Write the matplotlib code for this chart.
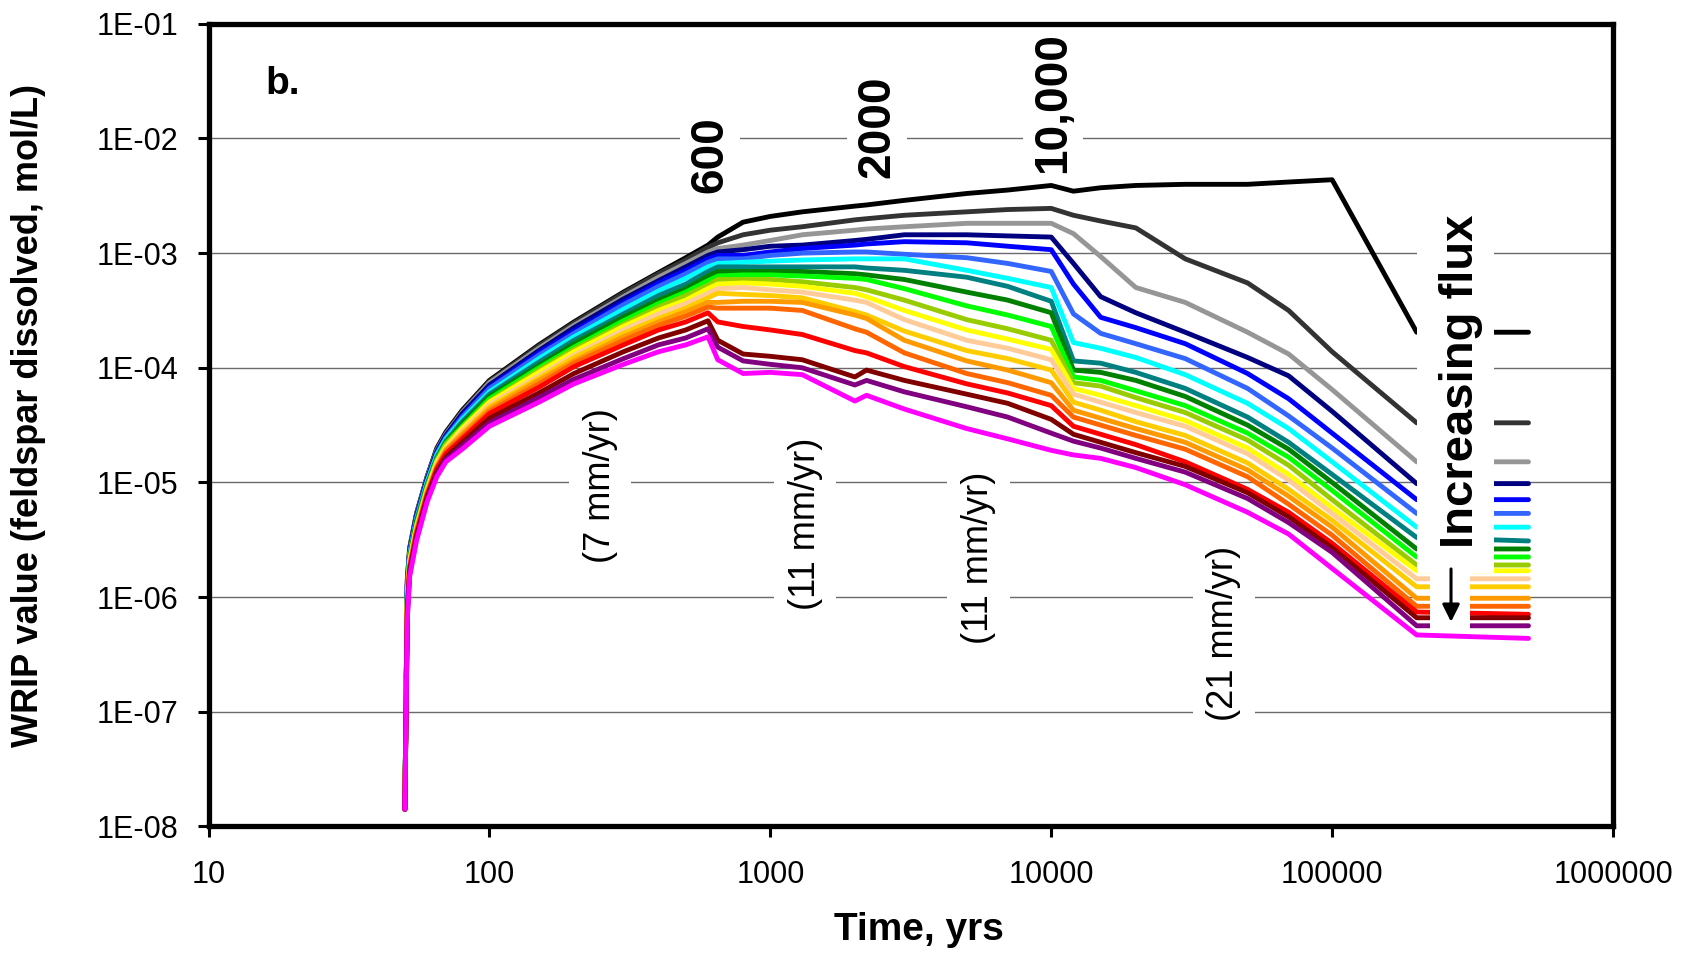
"""
WRIP value vs time for a set of feldspar-dissolution runs (panel b).
Log-log plot, one line per flux scenario, Excel-style palette.
"""
import matplotlib
matplotlib.use("Agg")
import matplotlib.pyplot as plt
import numpy as np
from matplotlib.patches import Rectangle
from matplotlib.ticker import NullLocator

plt.rcParams["font.family"] = ["Liberation Sans", "DejaVu Sans"]

# ---- data (log10 of WRIP, mol/L) -------------------------------------------
years = [50, 51, 52, 55, 60, 65, 70, 80, 100, 150, 200, 300, 400, 500, 600, 650,
         800, 1000, 1300, 2000, 2200, 3000, 5000, 7000, 10000, 12000, 15000,
         20000, 30000, 50000, 70000, 100000, 200000, 500000]

log_black = [-7.85, -5.85, -5.57, -5.27, -4.95, -4.70, -4.56, -4.37, -4.11, -3.80, -3.60, -3.34,
             -3.17, -3.04, -2.93, -2.86, -2.73, -2.68, -2.64, -2.59, -2.58, -2.54, -2.48, -2.45,
             -2.41, -2.46, -2.43, -2.41, -2.40, -2.40, -2.38, -2.36, -3.69, -3.69]
log_dark_gray = [-7.85, -5.86, -5.58, -5.28, -4.95, -4.71, -4.57, -4.38, -4.12, -3.81, -3.61, -3.35,
                 -3.18, -3.06, -2.95, -2.91, -2.84, -2.80, -2.77, -2.71, -2.70, -2.67, -2.64, -2.62,
                 -2.61, -2.67, -2.72, -2.78, -3.05, -3.26, -3.50, -3.86, -4.48, -4.48]
log_gray = [-7.85, -5.87, -5.59, -5.28, -4.96, -4.72, -4.58, -4.39, -4.13, -3.83, -3.63, -3.38,
            -3.21, -3.09, -2.99, -2.96, -2.93, -2.89, -2.84, -2.80, -2.79, -2.77, -2.74, -2.74,
            -2.74, -2.83, -3.03, -3.30, -3.43, -3.69, -3.88, -4.19, -4.82, -4.82]
log_navy = [-7.85, -5.89, -5.60, -5.29, -4.97, -4.73, -4.59, -4.40, -4.15, -3.85, -3.65, -3.40,
            -3.24, -3.12, -3.02, -2.99, -2.97, -2.94, -2.93, -2.89, -2.88, -2.84, -2.84, -2.85,
            -2.86, -3.09, -3.38, -3.52, -3.69, -3.91, -4.07, -4.38, -5.01, -5.01]
log_blue = [-7.85, -5.90, -5.61, -5.30, -4.98, -4.74, -4.60, -4.42, -4.17, -3.87, -3.68, -3.43,
            -3.26, -3.15, -3.05, -3.02, -3.02, -2.99, -2.96, -2.93, -2.92, -2.90, -2.91, -2.94,
            -2.97, -3.27, -3.56, -3.65, -3.79, -4.05, -4.27, -4.57, -5.15, -5.15]
log_royal_blue = [-7.85, -5.91, -5.62, -5.31, -4.99, -4.75, -4.61, -4.43, -4.18, -3.89, -3.70, -3.45,
                  -3.29, -3.18, -3.08, -3.05, -3.05, -3.02, -3.00, -2.99, -2.99, -3.01, -3.04, -3.09,
                  -3.16, -3.53, -3.70, -3.79, -3.92, -4.18, -4.42, -4.70, -5.27, -5.27]
log_cyan = [-7.85, -5.93, -5.63, -5.33, -5.00, -4.76, -4.62, -4.45, -4.21, -3.92, -3.73, -3.49,
            -3.33, -3.22, -3.12, -3.09, -3.08, -3.07, -3.06, -3.05, -3.05, -3.05, -3.15, -3.22,
            -3.30, -3.78, -3.83, -3.91, -4.06, -4.31, -4.53, -4.82, -5.39, -5.39]
log_teal = [-7.85, -5.96, -5.65, -5.34, -5.02, -4.78, -4.64, -4.47, -4.23, -3.95, -3.76, -3.53,
            -3.37, -3.27, -3.16, -3.12, -3.12, -3.12, -3.12, -3.12, -3.13, -3.15, -3.21, -3.29,
            -3.42, -3.94, -3.96, -4.04, -4.18, -4.43, -4.65, -4.93, -5.48, -5.51]
log_green = [-7.85, -5.97, -5.66, -5.35, -5.03, -4.79, -4.65, -4.49, -4.25, -3.98, -3.79, -3.56,
             -3.41, -3.31, -3.20, -3.16, -3.16, -3.16, -3.16, -3.18, -3.19, -3.23, -3.34, -3.41,
             -3.52, -4.02, -4.04, -4.11, -4.25, -4.50, -4.71, -5.00, -5.58, -5.58]
log_lime = [-7.85, -5.99, -5.67, -5.37, -5.04, -4.80, -4.66, -4.51, -4.27, -4.00, -3.82, -3.59,
            -3.44, -3.34, -3.24, -3.20, -3.19, -3.19, -3.20, -3.22, -3.23, -3.31, -3.46, -3.54,
            -3.64, -4.08, -4.11, -4.20, -4.33, -4.57, -4.78, -5.07, -5.65, -5.65]
log_yellow_green = [-7.85, -6.00, -5.68, -5.38, -5.05, -4.81, -4.67, -4.52, -4.29, -4.02, -3.84, -3.62,
                    -3.47, -3.37, -3.28, -3.23, -3.23, -3.23, -3.25, -3.30, -3.32, -3.41, -3.58, -3.66,
                    -3.76, -4.13, -4.16, -4.26, -4.39, -4.63, -4.85, -5.15, -5.72, -5.72]
log_yellow = [-7.85, -6.02, -5.69, -5.39, -5.06, -4.82, -4.69, -4.53, -4.30, -4.04, -3.86, -3.64,
              -3.50, -3.41, -3.31, -3.27, -3.26, -3.27, -3.29, -3.35, -3.38, -3.50, -3.67, -3.75,
              -3.84, -4.18, -4.24, -4.33, -4.46, -4.70, -4.93, -5.22, -5.77, -5.77]
log_peach = [-7.85, -6.04, -5.70, -5.40, -5.07, -4.83, -4.70, -4.55, -4.32, -4.07, -3.89, -3.67,
             -3.53, -3.44, -3.35, -3.31, -3.30, -3.32, -3.34, -3.41, -3.43, -3.58, -3.76, -3.83,
             -3.93, -4.23, -4.30, -4.39, -4.51, -4.75, -4.98, -5.27, -5.84, -5.84]
log_gold = [-7.85, -6.05, -5.72, -5.41, -5.08, -4.85, -4.71, -4.57, -4.34, -4.09, -3.91, -3.70,
            -3.57, -3.48, -3.39, -3.35, -3.36, -3.37, -3.39, -3.51, -3.54, -3.68, -3.85, -3.92,
            -4.02, -4.30, -4.37, -4.47, -4.59, -4.83, -5.06, -5.33, -5.91, -5.91]
log_orange = [-7.85, -6.07, -5.73, -5.42, -5.09, -4.86, -4.72, -4.58, -4.36, -4.11, -3.94, -3.73,
              -3.60, -3.51, -3.43, -3.43, -3.42, -3.42, -3.43, -3.54, -3.57, -3.76, -3.94, -4.02,
              -4.13, -4.37, -4.44, -4.53, -4.65, -4.89, -5.12, -5.39, -6.01, -6.01]
log_dark_orange = [-7.85, -6.09, -5.74, -5.43, -5.10, -4.87, -4.73, -4.60, -4.38, -4.14, -3.96, -3.76,
                   -3.63, -3.55, -3.47, -3.48, -3.48, -3.48, -3.50, -3.66, -3.69, -3.87, -4.05, -4.13,
                   -4.24, -4.43, -4.50, -4.59, -4.71, -4.95, -5.19, -5.46, -6.08, -6.08]
log_red = [-7.85, -6.11, -5.75, -5.45, -5.11, -4.88, -4.75, -4.62, -4.40, -4.17, -3.99, -3.80,
           -3.67, -3.60, -3.52, -3.60, -3.64, -3.67, -3.71, -3.85, -3.87, -3.99, -4.14, -4.22,
           -4.33, -4.51, -4.58, -4.67, -4.82, -5.06, -5.26, -5.53, -6.13, -6.15]
log_dark_red = [-7.85, -6.14, -5.78, -5.47, -5.13, -4.91, -4.78, -4.65, -4.44, -4.22, -4.05, -3.86,
                -3.74, -3.67, -3.59, -3.76, -3.88, -3.90, -3.93, -4.08, -4.02, -4.11, -4.23, -4.31,
                -4.45, -4.58, -4.65, -4.74, -4.86, -5.09, -5.30, -5.57, -6.18, -6.18]
log_purple = [-7.85, -6.17, -5.80, -5.49, -5.15, -4.93, -4.80, -4.68, -4.48, -4.26, -4.10, -3.92,
              -3.80, -3.74, -3.66, -3.82, -3.94, -3.97, -4.00, -4.15, -4.11, -4.21, -4.34, -4.43,
              -4.57, -4.64, -4.70, -4.79, -4.91, -5.14, -5.35, -5.61, -6.25, -6.25]
log_magenta = [-7.85, -6.20, -5.82, -5.51, -5.17, -4.95, -4.82, -4.71, -4.51, -4.30, -4.14, -3.97,
               -3.86, -3.80, -3.73, -3.93, -4.05, -4.04, -4.06, -4.29, -4.24, -4.36, -4.53, -4.62,
               -4.72, -4.76, -4.79, -4.87, -5.02, -5.26, -5.45, -5.75, -6.33, -6.36]

series = [log_black, log_dark_gray, log_gray, log_navy, log_blue, log_royal_blue, log_cyan,
          log_teal, log_green, log_lime, log_yellow_green, log_yellow, log_peach, log_gold,
          log_orange, log_dark_orange, log_red, log_dark_red, log_purple, log_magenta]
line_colors = ["#000000", "#333333", "#969696", "#000080", "#0000FF", "#3366FF", "#00FFFF",
               "#008080", "#008000", "#00FF00", "#99CC00", "#FFFF00", "#FFCC99", "#FFCC00",
               "#FF9900", "#FF6600", "#FF0000", "#800000", "#800080", "#FF00FF"]

x_ticks = [10, 100, 1000, 10000, 100000, 1000000]
x_tick_labels = ["10", "100", "1000", "10000", "100000", "1000000"]
y_ticks = [1e-8, 1e-7, 1e-6, 1e-5, 1e-4, 1e-3, 1e-2, 1e-1]
y_tick_labels = ["1E-08", "1E-07", "1E-06", "1E-05", "1E-04", "1E-03", "1E-02", "1E-01"]

period_ends = ["600", "2000", "10,000"]
period_rates = ["(7 mm/yr)", "(11 mm/yr)", "(11 mm/yr)", "(21 mm/yr)"]

# ---- figure ----------------------------------------------------------------
fig = plt.figure(figsize=(16.94, 9.55), dpi=100)
ax = fig.add_axes([0.1231, 0.1346, 0.8291, 0.8405])

t = np.array(years, dtype=float)
for vals, col in zip(series, line_colors):
    ax.plot(t, 10.0 ** np.array(vals), color=col, lw=3.5, solid_joinstyle="round",
            solid_capstyle="round", zorder=3)

ax.set_xscale("log")
ax.set_yscale("log")
ax.set_xlim(10, 1e6)
ax.set_ylim(1e-8, 1e-1)
ax.set_xticks(x_ticks)
ax.set_xticklabels(x_tick_labels)
ax.set_yticks(y_ticks)
ax.set_yticklabels(y_tick_labels)
ax.xaxis.set_minor_locator(NullLocator())
ax.yaxis.set_minor_locator(NullLocator())
ax.tick_params(axis="both", which="major", direction="out", length=8, width=2.2,
               labelsize=22, color="black")
ax.tick_params(axis="x", pad=16)
ax.tick_params(axis="y", pad=14)

ax.yaxis.grid(True, color="#6a6a6a", lw=1.0, zorder=0)
ax.set_axisbelow(True)
for sp in ax.spines.values():
    sp.set_linewidth(3.8)
    sp.set_color("black")
    sp.set_zorder(7)

# white boxes behind the "Increasing flux" note and its arrow
ax.add_patch(Rectangle((0.8605, 0.3158), 0.0548, 0.4647, transform=ax.transAxes,
                       facecolor="white", edgecolor="none", zorder=5))
ax.add_patch(Rectangle((0.8697, 0.2443), 0.0285, 0.0715, transform=ax.transAxes,
                       facecolor="white", edgecolor="none", zorder=5))
ax.text(2.88e5, 10 ** -4.12, "Increasing flux", rotation=90, ha="center", va="center",
        fontsize=34, fontweight="bold", zorder=6)
ax.annotate("", xy=(2.65e5, 10 ** -6.24), xytext=(2.65e5, 10 ** -5.73),
            arrowprops=dict(arrowstyle="-|>", color="black", lw=2.2, mutation_scale=26),
            zorder=6)

for txt, (xx, yy) in zip(period_ends, [(610, 10 ** -2.14), (2400, 10 ** -1.90),
                                       (10150, 10 ** -1.69)]):
    ax.text(xx, yy, txt, rotation=90, ha="center", va="center", fontsize=33,
            fontweight="bold", bbox=dict(facecolor="white", edgecolor="none", pad=6),
            zorder=4)
for txt, (xx, yy) in zip(period_rates, [(248, 10 ** -5.03), (1330, 10 ** -5.36),
                                        (5500, 10 ** -5.66), (41200, 10 ** -6.32)]):
    ax.text(xx, yy, txt, rotation=90, ha="center", va="center", fontsize=26,
            bbox=dict(facecolor="white", edgecolor="none", pad=10), zorder=4)

ax.text(0.053, 0.925, "b.", transform=ax.transAxes, ha="center", va="center",
        fontsize=28, fontweight="bold")

fig.text(0.5423, 0.0262, "Time, yrs", ha="center", va="center", fontsize=28,
         fontweight="bold")
fig.text(0.0171, 0.5644, "WRIP value (feldspar dissolved, mol/L)", rotation=90,
         ha="center", va="center", fontsize=26, fontweight="bold")

fig.savefig("out.png", dpi=100)
